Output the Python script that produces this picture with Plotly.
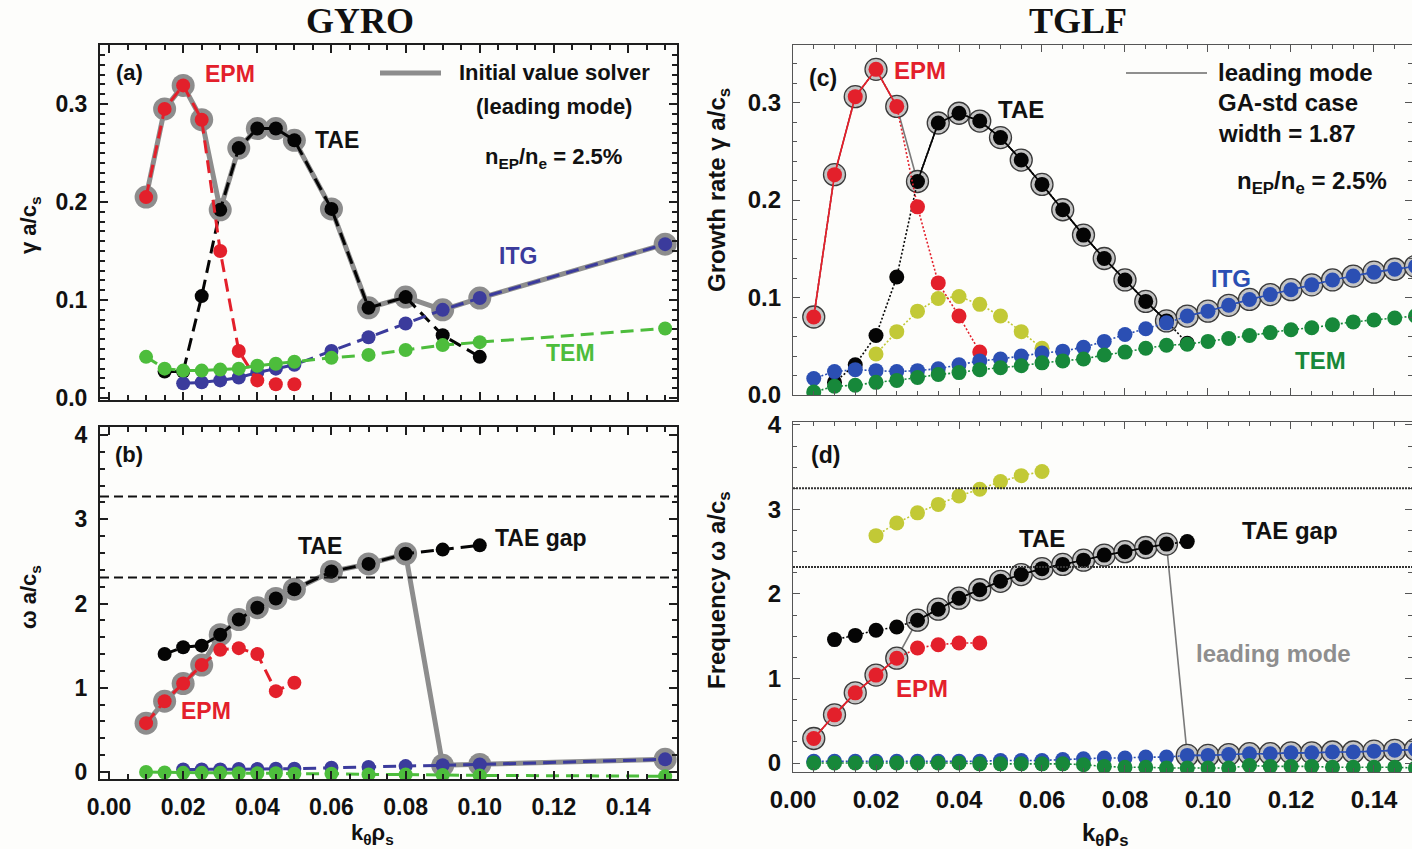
import plotly.graph_objects as go

W, H = 1412, 849

# ---------------- GYRO (initial value solver) ----------------
gyro_k_epm = [0.010, 0.015, 0.020, 0.025, 0.030, 0.035, 0.040, 0.045, 0.050]
gyro_gam_epm = [0.205, 0.295, 0.319, 0.284, 0.150, 0.048, 0.018, 0.014, 0.014]
gyro_om_epm = [0.58, 0.84, 1.05, 1.27, 1.45, 1.47, 1.40, 0.96, 1.06]

gyro_k_tae = [0.015, 0.020, 0.025, 0.030, 0.035, 0.040, 0.045, 0.050, 0.060, 0.070, 0.080, 0.090, 0.100]
gyro_gam_tae = [0.027, 0.027, 0.104, 0.192, 0.255, 0.275, 0.275, 0.263, 0.193, 0.092, 0.103, 0.064, 0.042]
gyro_om_tae = [1.40, 1.48, 1.50, 1.63, 1.81, 1.95, 2.06, 2.17, 2.38, 2.47, 2.59, 2.64, 2.69]

gyro_k_itg = [0.020, 0.025, 0.030, 0.035, 0.040, 0.045, 0.050, 0.060, 0.070, 0.080, 0.090, 0.100, 0.150]
gyro_gam_itg = [0.015, 0.016, 0.018, 0.021, 0.026, 0.030, 0.034, 0.048, 0.062, 0.076, 0.090, 0.102, 0.157]
gyro_om_itg = [0.03, 0.03, 0.03, 0.035, 0.035, 0.04, 0.04, 0.05, 0.06, 0.07, 0.08, 0.09, 0.15]

gyro_k_tem = [0.010, 0.015, 0.020, 0.025, 0.030, 0.035, 0.040, 0.045, 0.050, 0.060, 0.070, 0.080, 0.090, 0.100, 0.150]
gyro_gam_tem = [0.042, 0.030, 0.028, 0.028, 0.029, 0.030, 0.033, 0.035, 0.037, 0.041, 0.044, 0.049, 0.054, 0.057, 0.071]
gyro_om_tem = [0.0, -0.005, -0.01, -0.01, -0.01, -0.015, -0.015, -0.015, -0.02, -0.02, -0.03, -0.03, -0.035, -0.04, -0.05]

gyro_gap = [2.31, 3.27]

# ---------------- TGLF (quasilinear eigenvalue solver) ----------------
tglf_k_epm = [0.005, 0.010, 0.015, 0.020, 0.025, 0.030, 0.035, 0.040, 0.045]
tglf_gam_epm = [0.080, 0.226, 0.306, 0.334, 0.296, 0.193, 0.115, 0.081, 0.044]
tglf_om_epm = [0.29, 0.57, 0.83, 1.04, 1.24, 1.36, 1.40, 1.42, 1.42]

tglf_k_tae = [0.010, 0.015, 0.020, 0.025, 0.030, 0.035, 0.040, 0.045, 0.050,
              0.055, 0.060, 0.065, 0.070, 0.075, 0.080, 0.085, 0.090, 0.095]
tglf_gam_tae = [0.013, 0.031, 0.061, 0.121, 0.219, 0.279, 0.289, 0.281, 0.264,
                0.241, 0.216, 0.190, 0.164, 0.140, 0.118, 0.096, 0.076, 0.053]
tglf_om_tae = [1.46, 1.51, 1.57, 1.61, 1.69, 1.82, 1.95, 2.05, 2.15,
               2.23, 2.30, 2.35, 2.40, 2.46, 2.50, 2.55, 2.59, 2.62]

tglf_k_sub = [0.020, 0.025, 0.030, 0.035, 0.040, 0.045, 0.050, 0.055, 0.060]
tglf_gam_sub = [0.042, 0.065, 0.086, 0.099, 0.101, 0.093, 0.081, 0.065, 0.048]
tglf_om_sub = [2.69, 2.84, 2.96, 3.06, 3.16, 3.24, 3.33, 3.40, 3.45]

tglf_k_all = [0.005, 0.010, 0.015, 0.020, 0.025, 0.030, 0.035, 0.040, 0.045, 0.050,
              0.055, 0.060, 0.065, 0.070, 0.075, 0.080, 0.085, 0.090, 0.095, 0.100,
              0.105, 0.110, 0.115, 0.120, 0.125, 0.130, 0.135, 0.140, 0.145, 0.150]
tglf_gam_itg = [0.017, 0.024, 0.026, 0.025, 0.024, 0.025, 0.027, 0.031, 0.035, 0.037,
                0.040, 0.043, 0.045, 0.049, 0.055, 0.062, 0.068, 0.074, 0.081, 0.086,
                0.092, 0.098, 0.103, 0.108, 0.113, 0.118, 0.122, 0.126, 0.129, 0.132]
tglf_om_itg = [0.02, 0.02, 0.02, 0.02, 0.02, 0.02, 0.02, 0.02, 0.02, 0.03,
               0.03, 0.03, 0.04, 0.05, 0.06, 0.06, 0.07, 0.07, 0.09, 0.09,
               0.10, 0.11, 0.11, 0.12, 0.12, 0.13, 0.13, 0.14, 0.15, 0.16]
tglf_gam_tem = [0.003, 0.009, 0.010, 0.013, 0.015, 0.018, 0.021, 0.023, 0.026, 0.028,
                0.030, 0.033, 0.035, 0.037, 0.041, 0.044, 0.048, 0.051, 0.052, 0.055,
                0.058, 0.061, 0.064, 0.067, 0.069, 0.072, 0.075, 0.077, 0.079, 0.081]
tglf_om_tem = [0.0, 0.0, 0.0, 0.0, 0.0, 0.0, 0.0, 0.0, -0.01, -0.01,
               -0.01, -0.01, -0.01, -0.02, -0.04, -0.05, -0.05, -0.06, -0.06, -0.06,
               -0.06, -0.03, -0.04, -0.04, -0.04, -0.05, -0.05, -0.05, -0.05, -0.06]

tglf_gap = [2.32, 3.25]

x_ticks = [0.00, 0.02, 0.04, 0.06, 0.08, 0.10, 0.12, 0.14]

# leading-mode k windows for each solver
gyro_lead = {"epm": (0.0, 0.025), "tae": (0.03, 0.08), "itg": (0.09, 1.0)}
tglf_lead = {"epm": (0.0, 0.025), "tae": (0.03, 0.09), "itg": (0.095, 1.0)}

RED = "#e3202b"
BLACK = "#050505"
G_BLUE = "#3b3b9c"
G_GREEN = "#4dbd3c"
T_BLUE = "#2b4fb3"
T_GREEN = "#17883a"
YEL = "#c2c936"

SANS = "Liberation Sans, Arial, Helvetica"
SERIF = "Liberation Serif, Times New Roman, serif"


def fx(p):
    return p / W


def fy(p):
    return 1 - p / H


fig = go.Figure()


def in_window(k, win):
    return win[0] - 1e-9 <= k <= win[1] + 1e-9


def lead_path(parts):
    xs, ys = [], []
    for k, v, win in parts:
        for a, b in zip(k, v):
            if in_window(a, win):
                xs.append(a)
                ys.append(b)
    return xs, ys


# ---------- GYRO panels (a) and (b) ----------
def gyro_panel(xa, ya, epm, tae, itg, tem):
    lx, ly = lead_path([(gyro_k_epm, epm, gyro_lead["epm"]),
                        (gyro_k_tae, tae, gyro_lead["tae"]),
                        (gyro_k_itg, itg, gyro_lead["itg"])])
    fig.add_trace(go.Scatter(x=lx, y=ly, xaxis=xa, yaxis=ya, mode="lines+markers",
                             line=dict(color="#8d8d8d", width=5),
                             marker=dict(size=23, color="#8d8d8d"), showlegend=False))
    for k, v, c in [(gyro_k_tae, tae, BLACK), (gyro_k_itg, itg, G_BLUE),
                    (gyro_k_epm, epm, RED), (gyro_k_tem, tem, G_GREEN)]:
        fig.add_trace(go.Scatter(x=k, y=v, xaxis=xa, yaxis=ya, mode="lines+markers",
                                 line=dict(color=c, width=3, dash="13px,7px"),
                                 marker=dict(size=14, color=c), showlegend=False))


gyro_panel("x", "y", gyro_gam_epm, gyro_gam_tae, gyro_gam_itg, gyro_gam_tem)
gyro_panel("x2", "y2", gyro_om_epm, gyro_om_tae, gyro_om_itg, gyro_om_tem)


# ---------- TGLF panels (c) and (d) ----------
def tglf_panel(xa, ya, epm, tae, sub, itg, tem):
    lx, ly = lead_path([(tglf_k_epm, epm, tglf_lead["epm"]),
                        (tglf_k_tae, tae, tglf_lead["tae"]),
                        (tglf_k_all, itg, tglf_lead["itg"])])
    fig.add_trace(go.Scatter(x=lx, y=ly, xaxis=xa, yaxis=ya, mode="lines+markers",
                             line=dict(color="#7a7a7a", width=1.6),
                             marker=dict(size=22, color="#c4c4c4",
                                         line=dict(color="#3a3a3a", width=1.3)),
                             showlegend=False))
    series = [(tglf_k_sub, sub, YEL, None), (tglf_k_tae, tae, BLACK, "tae"),
              (tglf_k_epm, epm, RED, "epm"), (tglf_k_all, itg, T_BLUE, "itg"),
              (tglf_k_all, tem, T_GREEN, None)]
    for k, v, c, key in series:
        if key is not None:
            seg = [b if in_window(a, tglf_lead[key]) else None for a, b in zip(k, v)]
            fig.add_trace(go.Scatter(x=k, y=seg, xaxis=xa, yaxis=ya, mode="lines",
                                     line=dict(color=c, width=1.6), connectgaps=False,
                                     showlegend=False))
        fig.add_trace(go.Scatter(x=k, y=v, xaxis=xa, yaxis=ya, mode="lines+markers",
                                 line=dict(color=c, width=1.6, dash="2px,2px"),
                                 marker=dict(size=15, color=c), showlegend=False))


tglf_panel("x3", "y3", tglf_gam_epm, tglf_gam_tae, tglf_gam_sub, tglf_gam_itg, tglf_gam_tem)
tglf_panel("x4", "y4", tglf_om_epm, tglf_om_tae, tglf_om_sub, tglf_om_itg, tglf_om_tem)

# ---------- axes ----------
g_tick = dict(family=SANS, size=23, color="#111", weight="bold")
t_tick = dict(family=SANS, size=24, color="#111", weight="bold")


def g_axis(dom, rng, minor, **kw):
    d = dict(domain=dom, range=rng, showline=True, linecolor="#1e1e1e", linewidth=2,
             mirror="ticks", ticks="inside", ticklen=8, tickwidth=2, tickcolor="#1e1e1e",
             minor=dict(ticks="inside", ticklen=5, tickwidth=1.5, tickcolor="#1e1e1e", dtick=minor),
             showgrid=False, zeroline=False, tickfont=g_tick, ticklabelstandoff=6,
             automargin=False)
    d.update(kw)
    return d


def t_axis(dom, rng, minor, **kw):
    d = dict(domain=dom, range=rng, showline=True, linecolor="#555", linewidth=1.3,
             mirror="ticks", ticks="inside", ticklen=7, tickwidth=1.3, tickcolor="#555",
             minor=dict(ticks="inside", ticklen=4, tickwidth=1, tickcolor="#555", dtick=minor),
             showgrid=False, zeroline=False, tickfont=t_tick, ticklabelstandoff=6,
             automargin=False)
    d.update(kw)
    return d


gx = [fx(100), fx(677)]
tx = [fx(793), 1.0]

fig.update_layout(
    width=W, height=H, autosize=False,
    margin=dict(l=0, r=0, t=0, b=0, pad=0),
    paper_bgcolor="#fdfdfb", plot_bgcolor="#fdfdfb",
    showlegend=False,
    xaxis=g_axis(gx, [-0.00243, 0.1532], 0.005, anchor="y", tickvals=x_ticks,
                 showticklabels=False),
    yaxis=g_axis([fy(400), fy(45)], [-0.002, 0.3602], 0.01, anchor="x",
                 tickvals=[0.0, 0.1, 0.2, 0.3], tickformat=".1f"),
    xaxis2=g_axis(gx, [-0.00243, 0.1532], 0.005, anchor="y2", tickvals=x_ticks,
                  tickformat=".2f"),
    yaxis2=g_axis([fy(779), fy(427)], [-0.083, 4.095], 0.2, anchor="x2",
                  tickvals=[0, 1, 2, 3, 4]),
    xaxis3=t_axis(tx, [0.0, 0.14916], 0.005, anchor="y3", tickvals=x_ticks,
                  showticklabels=False),
    yaxis3=t_axis([fy(395), fy(45)], [0.0, 0.359], 0.02, anchor="x3",
                  tickvals=[0.0, 0.1, 0.2, 0.3], tickformat=".1f"),
    xaxis4=t_axis(tx, [0.0, 0.14916], 0.005, anchor="y4", tickvals=x_ticks,
                  tickformat=".2f"),
    yaxis4=t_axis([fy(772), fy(422)], [-0.1065, 4.035], 0.25, anchor="x4",
                  tickvals=[0, 1, 2, 3, 4]),
)

# TAE gap boundaries
shapes = []
for g in gyro_gap:
    shapes.append(dict(type="line", xref="x2 domain", yref="y2", x0=0, x1=1, y0=g, y1=g,
                       line=dict(color="#111", width=2, dash="9px,5px")))
for g in tglf_gap:
    shapes.append(dict(type="line", xref="x4 domain", yref="y4", x0=0, x1=1, y0=g, y1=g,
                       line=dict(color="#333", width=2, dash="2px,1px")))
# legend samples
shapes.append(dict(type="line", xref="paper", yref="paper", x0=fx(380), x1=fx(441),
                   y0=fy(73), y1=fy(73), line=dict(color="#8d8d8d", width=5)))
shapes.append(dict(type="line", xref="paper", yref="paper", x0=fx(1126), x1=fx(1207),
                   y0=fy(73), y1=fy(73), line=dict(color="#6a6a6a", width=1.6)))
fig.update_layout(shapes=shapes)

ann = []


def label(text, x, y, family, size, color="#111", angle=0, xanchor="center", bold=True):
    ann.append(dict(text=text, x=fx(x), y=fy(y), xref="paper", yref="paper",
                    showarrow=False, xanchor=xanchor, yanchor="middle", textangle=angle,
                    font=dict(family=family, size=size, color=color,
                              weight="bold" if bold else "normal")))


# titles
label("GYRO", 360, 21, SERIF, 36)
label("TGLF", 1078, 21, SERIF, 36)

# GYRO panel texts
label("(a)", 129, 73, SANS, 22)
label("EPM", 230, 74, SANS, 23, RED)
label("TAE", 337, 140, SANS, 23)
label("ITG", 518, 256, SANS, 23, G_BLUE)
label("TEM", 570, 353, SANS, 23, G_GREEN)
label("Initial value solver", 554, 73, SANS, 22)
label("(leading mode)", 554, 106, SANS, 22)
label("n<sub>EP</sub>/n<sub>e</sub> = 2.5%", 553, 158, SANS, 22)
label("(b)", 129, 454, SANS, 22)
label("TAE", 320, 546, SANS, 23)
label("EPM", 206, 711, SANS, 23, RED)
label("TAE gap", 541, 538, SANS, 23)

# GYRO axis titles
label("γ a/c<sub>s</sub>", 30, 225, SANS, 22, angle=-90)
label("ω a/c<sub>s</sub>", 30, 597, SANS, 22, angle=-90)
label("k<sub>θ</sub>ρ<sub>s</sub>", 372, 834, SANS, 22)

# TGLF panel texts
label("(c)", 823, 78, SANS, 23)
label("EPM", 920, 70, SANS, 24, RED)
label("TAE", 1021, 109, SANS, 24)
label("ITG", 1231, 278, SANS, 24, T_BLUE)
label("TEM", 1320, 360, SANS, 24, T_GREEN)
label("leading mode", 1216, 73, SANS, 24, xanchor="left")
label("GA-std case", 1216, 103, SANS, 24, xanchor="left")
label("width = 1.87", 1216, 133, SANS, 24, xanchor="left")
label("n<sub>EP</sub>/n<sub>e</sub> = 2.5%", 1312, 183, SANS, 24)
label("(d)", 825, 455, SANS, 23)
label("TAE", 1042, 538, SANS, 24)
label("EPM", 922, 688, SANS, 24, RED)
label("TAE gap", 1290, 530, SANS, 24)
label("leading mode", 1273, 653, SANS, 24, "#8e8e8e")

# TGLF axis titles
label("Growth rate γ a/c<sub>s</sub>", 718, 190, SANS, 24, angle=-90)
label("Frequency ω a/c<sub>s</sub>", 718, 590, SANS, 24, angle=-90)
label("k<sub>θ</sub>ρ<sub>s</sub>", 1105, 834, SANS, 24)

fig.update_layout(annotations=ann)

fig.write_html("out.html")
